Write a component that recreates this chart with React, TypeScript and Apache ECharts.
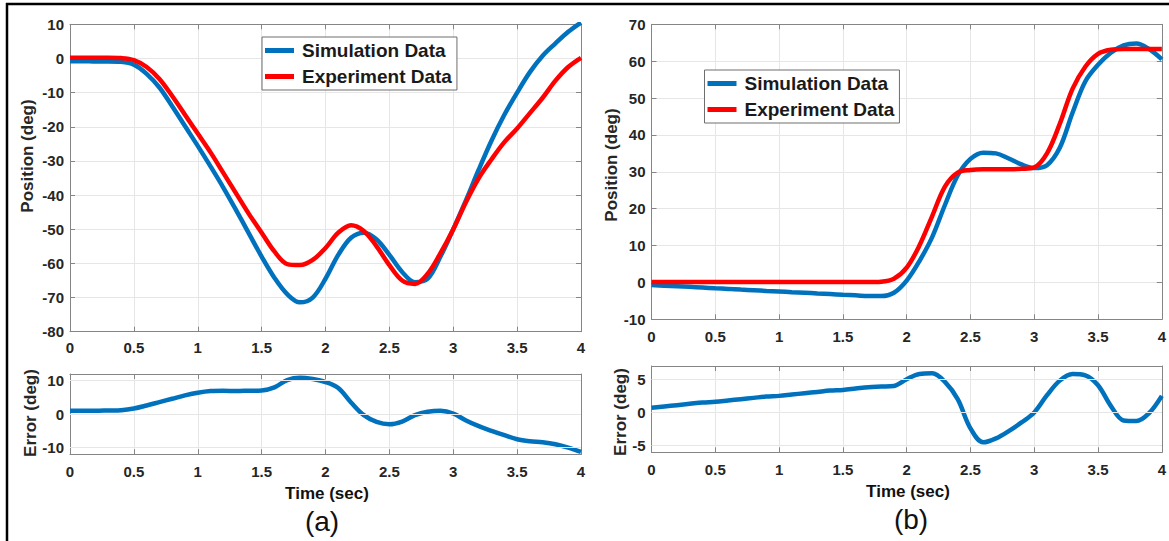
import React, { useEffect, useRef } from "react";
import * as echarts from "echarts";

// ---------- data ----------
const TIME = [
  0.0, 0.1, 0.2, 0.3, 0.4, 0.5, 0.6, 0.7, 0.8, 0.9,
  1.0, 1.1, 1.2, 1.3, 1.4, 1.5, 1.6, 1.7, 1.8, 1.9,
  2.0, 2.1, 2.2, 2.3, 2.4, 2.5, 2.6, 2.7, 2.8, 2.9,
  3.0, 3.1, 3.2, 3.3, 3.4, 3.5, 3.6, 3.7, 3.8, 3.9, 4.0,
];

// (a) position
const SIM_A = [
  -0.8, -0.8, -0.9, -0.9, -1.0, -1.8, -4.5, -8.5, -14.0, -19.8,
  -25.6, -31.6, -37.8, -44.4, -51.2, -58.0, -64.2, -69.0, -71.4, -70.0,
  -64.5, -57.5, -52.5, -51.0, -53.0, -57.5, -62.5, -65.5, -64.5, -58.0,
  -50.0, -41.5, -32.5, -24.0, -16.5, -10.0, -4.0, 0.8, 4.4, 7.8, 10.5,
];
const EXP_A = [
  0.2, 0.2, 0.2, 0.2, 0.1, -0.5, -2.5, -6.0, -11.0, -16.5,
  -22.0, -27.5, -33.5, -39.5, -45.5, -51.0, -56.5, -60.2, -60.5, -59.0,
  -55.5, -51.0, -48.8, -50.5, -55.0, -60.5, -65.0, -66.0, -63.0, -57.0,
  -50.0, -42.0, -35.0, -29.5, -24.5, -20.5, -16.0, -11.5, -6.5, -2.5, 0.2,
];
const ERR_A = [
  1.0, 1.0, 1.0, 1.1, 1.2, 1.7, 2.6, 3.6, 4.6, 5.6,
  6.4, 6.9, 7.0, 6.9, 7.0, 7.1, 8.0, 10.2, 10.9, 10.5,
  9.6, 7.8, 3.5, -0.3, -2.3, -3.0, -2.2, -0.3, 0.7, 1.0,
  0.2, -1.9, -3.6, -5.0, -6.3, -7.5, -8.1, -8.4, -9.0, -10.0, -11.3,
];

// (b) position
const SIM_B = [
  -0.7, -0.9, -1.05, -1.2, -1.4, -1.6, -1.75, -1.95, -2.1, -2.3,
  -2.45, -2.65, -2.8, -3.0, -3.15, -3.35, -3.5, -3.7, -3.7, -2.8,
  0.5, 5.8, 12.3, 21.0, 29.0, 33.5, 35.2, 35.0, 33.6, 32.0,
  31.0, 31.8, 36.5, 46.0, 54.5, 59.0, 62.3, 64.3, 64.8, 63.3, 60.5,
];
const EXP_B = [
  0.1, 0.1, 0.1, 0.1, 0.1, 0.1, 0.1, 0.1, 0.1, 0.1,
  0.1, 0.1, 0.1, 0.1, 0.1, 0.1, 0.1, 0.1, 0.2, 1.0,
  4.0, 10.0, 18.0, 26.0, 29.8, 30.5, 30.7, 30.7, 30.7, 30.8,
  31.2, 35.0, 43.0, 52.5, 58.5, 62.0, 63.1, 63.3, 63.3, 63.3, 63.3,
];
const ERR_B = [
  0.7, 0.9, 1.1, 1.3, 1.5, 1.6, 1.8, 2.0, 2.2, 2.4,
  2.5, 2.7, 2.9, 3.1, 3.3, 3.4, 3.6, 3.8, 3.9, 4.0,
  5.0, 5.8, 5.9, 4.6, 2.0, -2.4, -4.5, -3.9, -2.8, -1.5,
  0.0, 2.6, 4.8, 5.8, 5.6, 4.1, 1.0, -1.2, -1.3, -0.1, 2.5,
];

const SERIES_NAMES = ["Simulation Data", "Experiment Data"];
const ERR_A_TICKS = [-10, 0, 10];
const ERR_B_TICKS = [-5, 0, 5];

// ---------- styling ----------
const BLUE = "#0072BD";
const RED = "#FF0000";
const AXIS_COLOR = "#858585";
const GRID_COLOR = "#e6e6e6";
const LABEL_COLOR = "#262626";
const FONT = '"Liberation Sans", Arial, Helvetica, sans-serif';

const pairs = (vals: number[]) => TIME.map((t, i) => [t, vals[i]]);

const tickLabel = (margin: number) => ({
  show: true,
  margin,
  color: LABEL_COLOR,
  fontWeight: "bold",
  fontSize: 15,
  fontFamily: FONT,
  showMinLabel: true,
  showMaxLabel: true,
});

const lineStyleAxis = { show: true, onZero: false, lineStyle: { color: AXIS_COLOR, width: 1 } };
const tickInside = { show: true, inside: true, length: 5, lineStyle: { color: AXIS_COLOR, width: 1 } };

function xAxes(gi: number, margin: number) {
  return [
    {
      type: "value", gridIndex: gi, position: "bottom", min: 0, max: 4, interval: 0.5,
      axisLine: lineStyleAxis, axisTick: tickInside, axisLabel: tickLabel(margin),
      splitLine: { show: true, lineStyle: { color: GRID_COLOR, width: 1 } },
    },
    {
      type: "value", gridIndex: gi, position: "top", min: 0, max: 4, interval: 0.5,
      axisLine: lineStyleAxis, axisTick: tickInside, axisLabel: { show: false },
      splitLine: { show: false },
    },
  ];
}

function yAxesRegular(gi: number, min: number, max: number, interval: number) {
  return [
    {
      type: "value", gridIndex: gi, position: "left", min, max, interval,
      axisLine: lineStyleAxis, axisTick: tickInside, axisLabel: tickLabel(6),
      splitLine: { show: true, lineStyle: { color: GRID_COLOR, width: 1 } },
    },
    {
      type: "value", gridIndex: gi, position: "right", min, max, interval,
      axisLine: lineStyleAxis, axisTick: tickInside, axisLabel: { show: false },
      splitLine: { show: false },
    },
  ];
}

function yAxesCustom(gi: number, min: number, max: number, ticks: number[]) {
  return [
    {
      type: "value", gridIndex: gi, position: "left", min, max,
      axisLine: lineStyleAxis,
      axisTick: { ...tickInside, customValues: ticks },
      axisLabel: { ...tickLabel(6), customValues: ticks },
      splitLine: { show: false },
    },
    {
      type: "value", gridIndex: gi, position: "right", min, max,
      axisLine: lineStyleAxis,
      axisTick: { ...tickInside, customValues: ticks },
      axisLabel: { show: false },
      splitLine: { show: false },
    },
  ];
}

function gridLineSeries(xi: number, yi: number, ticks: number[]) {
  return {
    type: "line", xAxisIndex: xi, yAxisIndex: yi, data: [[0, ticks[1]]],
    symbol: "none", silent: true, z: 1,
    lineStyle: { opacity: 0 },
    markLine: {
      silent: true, symbol: ["none", "none"], label: { show: false },
      lineStyle: { color: GRID_COLOR, type: "solid", width: 1 },
      emphasis: { disabled: true },
      data: ticks.map((v) => ({ yAxis: v })),
    },
  };
}

function dataSeries(name: string, color: string, vals: number[], xi: number, yi: number, z: number) {
  return {
    name, type: "line", xAxisIndex: xi, yAxisIndex: yi, data: pairs(vals),
    symbol: "none", smooth: 0.35, z, clip: true,
    lineStyle: { color, width: 4.5 }, itemStyle: { color },
  };
}

function legendAt(left: number, top: number) {
  return {
    left, top, orient: "vertical", data: SERIES_NAMES, icon: "rect",
    itemWidth: 29, itemHeight: 5, itemGap: 5, selectedMode: false,
    padding: [3, 5, 3, 3], borderColor: "#6e6e6e", borderWidth: 1, backgroundColor: "#ffffff",
    textStyle: { fontSize: 19, fontWeight: "bold", fontFamily: FONT, color: "#1a1a1a", lineHeight: 21, padding: [0, 0, 0, 3] },
  };
}

function vText(text: string, x: number, y: number) {
  return {
    type: "text", x, y, rotation: Math.PI / 2,
    style: { text, fontSize: 17, fontWeight: "bold", fontFamily: FONT, fill: LABEL_COLOR, align: "center", verticalAlign: "middle" },
  };
}
function hText(text: string, x: number, y: number, size: number, weight: string) {
  return {
    type: "text", x, y,
    style: { text, fontSize: size, fontWeight: weight, fontFamily: FONT, fill: "#111", align: "center", verticalAlign: "middle" },
  };
}

export default function App() {
  const ref = useRef<HTMLDivElement>(null);
  useEffect(() => {
    if (!ref.current) return;
    const chart = echarts.init(ref.current, undefined, { renderer: "svg" });
    const option = {
      animation: false,
      backgroundColor: "#ffffff",
      grid: [
        { left: 70, top: 24.3, width: 511, height: 307.4 },
        { left: 70, top: 374, width: 511, height: 80.3 },
        { left: 651.5, top: 24.3, width: 510.8, height: 295 },
        { left: 651.5, top: 366, width: 510.8, height: 86.3 },
      ],
      xAxis: [
        ...xAxes(0, 8),
        ...xAxes(1, 10),
        ...xAxes(2, 10),
        ...xAxes(3, 10),
      ],
      yAxis: [
        ...yAxesRegular(0, -80, 10, 10),
        ...yAxesCustom(1, -12, 12, ERR_A_TICKS),
        ...yAxesRegular(2, -10, 70, 10),
        ...yAxesCustom(3, -6, 7, ERR_B_TICKS),
      ],
      legend: [legendAt(262, 37), legendAt(704.5, 70)],
      series: [
        dataSeries(SERIES_NAMES[0], BLUE, SIM_A, 0, 0, 3),
        dataSeries(SERIES_NAMES[1], RED, EXP_A, 0, 0, 4),
        gridLineSeries(2, 2, ERR_A_TICKS),
        dataSeries("Error (a)", BLUE, ERR_A, 2, 2, 3),
        dataSeries(SERIES_NAMES[0], BLUE, SIM_B, 4, 4, 3),
        dataSeries(SERIES_NAMES[1], RED, EXP_B, 4, 4, 4),
        gridLineSeries(6, 6, ERR_B_TICKS),
        dataSeries("Error (b)", BLUE, ERR_B, 6, 6, 3),
      ],
      graphic: [
        { type: "line", shape: { x1: 6, y1: 4, x2: 1169, y2: 4 }, style: { stroke: "#000", lineWidth: 2.5 } },
        { type: "line", shape: { x1: 7, y1: 3, x2: 7, y2: 541 }, style: { stroke: "#000", lineWidth: 2.5 } },
        vText("Position (deg)", 27, 156),
        vText("Error (deg)", 30, 413),
        vText("Position (deg)", 611, 165),
        vText("Error (deg)", 620, 412),
        hText("Time (sec)", 327, 493, 17, "bold"),
        hText("Time (sec)", 908, 491, 17, "bold"),
        hText("(a)", 322, 521, 28, "normal"),
        hText("(b)", 911, 519, 28, "normal"),
      ],
    };
    chart.setOption(option as any);
    return () => chart.dispose();
  }, []);
  return <div ref={ref} style={{ position: "absolute", left: 0, top: 0, width: 1169, height: 541 }} />;
}
